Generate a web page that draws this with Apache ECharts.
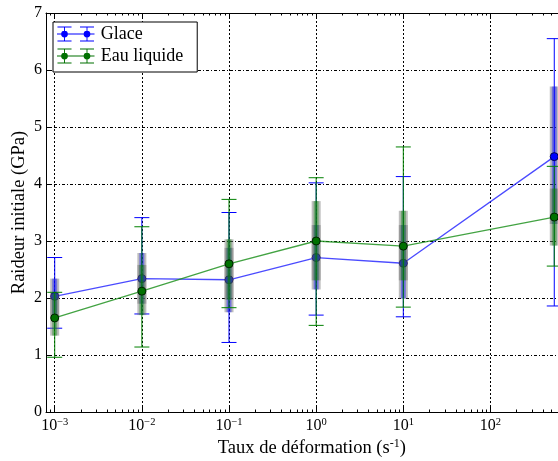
<!DOCTYPE html>
<html>
<head>
<meta charset="utf-8">
<script src="https://cdn.jsdelivr.net/npm/echarts@6/dist/echarts.min.js"></script>
<style>html,body{margin:0;padding:0;background:#fff}#c{width:558px;height:461px}</style>
</head>
<body>
<div id="c"></div>
<script>
// ---- data ----
const strainRates = [0.001, 0.01, 0.1, 1, 10, 540];
const glaceMean = [2.03, 2.34, 2.32, 2.71, 2.61, 4.48];
const glaceMin  = [1.47, 1.72, 1.22, 1.70, 1.67, 1.86];
const glaceMax  = [2.71, 3.41, 3.50, 4.02, 4.13, 6.55];
const glaceBoxLow  = [1.66, 1.90, 1.75, 2.15, 1.99, 3.30];
const glaceBoxHigh = [2.34, 2.79, 2.88, 3.28, 3.28, 5.71];
const eauMean = [1.65, 2.12, 2.60, 3.00, 2.91, 3.42];
const eauMin  = [0.96, 1.14, 1.83, 1.52, 1.84, 2.56];
const eauMax  = [2.10, 3.25, 3.73, 4.11, 4.65, 4.31];
const eauBoxLow  = [1.34, 1.70, 1.97, 2.31, 2.31, 2.92];
const eauBoxHigh = [2.08, 2.58, 3.03, 3.70, 3.53, 3.92];
const majorExponents = [-3, -2, -1, 0, 1, 2, 3];
const yTicks = [0, 1, 2, 3, 4, 5, 6, 7];

const FONT = '"Liberation Serif", "DejaVu Serif", serif';
const lx = strainRates.map(v => Math.log10(v));
const minorTicks = [];
for (let n = -4; n <= 3; n++) for (let k = 2; k <= 9; k++) {
  const v = n + Math.log10(k);
  if (v > -3.1 && v < 3) minorTicks.push(v);
}
const XMIN = -3.1, XMAX = 3;

function pts(m) { return lx.map((x, i) => [x, m[i]]); }
function rng(lo, hi) { return lx.map((x, i) => [x, lo[i], hi[i]]); }

function errRender(color) {
  return function (params, api) {
    const x = api.value(0), lo = api.value(1), hi = api.value(2);
    const a = api.coord([x, hi]), b = api.coord([x, lo]);
    const hw = 7.5;
    const st = { stroke: color, lineWidth: 1 };
    return { type: 'group', children: [
      { type: 'line', shape: { x1: a[0], y1: a[1], x2: b[0], y2: b[1] }, style: st },
      { type: 'line', shape: { x1: a[0] - hw, y1: a[1], x2: a[0] + hw, y2: a[1] }, style: st },
      { type: 'line', shape: { x1: b[0] - hw, y1: b[1], x2: b[0] + hw, y2: b[1] }, style: st }
    ]};
  };
}
function boxRender(fill) {
  return function (params, api) {
    const x = api.value(0), lo = api.value(1), hi = api.value(2);
    const a = api.coord([x, hi]), b = api.coord([x, lo]);
    const w = 9, wi = 5;
    return { type: 'group', children: [
      { type: 'rect', shape: { x: a[0] - w / 2, y: a[1], width: w, height: b[1] - a[1] }, style: { fill: 'rgba(110,110,110,0.45)' } },
      { type: 'rect', shape: { x: a[0] - wi / 2, y: a[1], width: wi, height: b[1] - a[1] }, style: { fill: fill } }
    ]};
  };
}

const iconPath = 'path://M0,7.4H40V8.6H0Z' +
  'M0.5,0H15.5V1.1H0.5Z M0.5,14.9H15.5V16H0.5Z M24.5,0H39.5V1.1H24.5Z M24.5,14.9H39.5V16H24.5Z' +
  'M7.5,0H8.5V16H7.5Z M31.5,0H32.5V16H31.5Z' +
  'M4.4,8a3.6,3.6 0 1,1 7.2,0a3.6,3.6 0 1,1 -7.2,0Z M28.4,8a3.6,3.6 0 1,1 7.2,0a3.6,3.6 0 1,1 -7.2,0Z';

function xLabel(v) {
  const e = Math.round(v);
  return '{b|10}{s|' + (e < 0 ? '\u2212' + (-e) : e) + '}';
}

const chart = echarts.init(document.getElementById('c'), null, { renderer: 'canvas' });
const gridLine = { show: true, lineStyle: { color: '#000', width: 1, type: [2, 2] } };
chart.setOption({
  animation: false,
  backgroundColor: '#fff',
  textStyle: { fontFamily: FONT },
  grid: { left: 46, top: 13, width: 531.6, height: 399, containLabel: false, outerBoundsMode: 'none' },
  legend: {
    left: 53, top: 22,
    orient: 'vertical',
    data: ['Glace', 'Eau liquide'],
    icon: iconPath,
    itemWidth: 40, itemHeight: 15, itemGap: 0,
    padding: [1, 14, 5, 4],
    itemStyle: { borderWidth: 0 },
    backgroundColor: '#fff', borderColor: '#000', borderWidth: 1, borderRadius: 0,
    textStyle: { fontFamily: FONT, fontSize: 18, color: '#000', lineHeight: 22 },
    z: 20
  },
  xAxis: [
    { type: 'value', position: 'bottom', min: XMIN, max: XMAX,
      name: '{n|Taux de déformation (s}{s|-1}{n|)}', nameLocation: 'middle', nameGap: 26, nameMoveOverlap: false,
      nameTextStyle: { rich: {
        n: { fontFamily: FONT, fontSize: 18.5, color: '#000', lineHeight: 21 },
        s: { fontFamily: FONT, fontSize: 12, color: '#000', lineHeight: 13, verticalAlign: 'top' } } },
      axisLine: { show: true, onZero: false, lineStyle: { color: '#000', width: 1 } },
      axisTick: { show: true, inside: true, length: 5, customValues: majorExponents, lineStyle: { color: '#000' } },
      axisLabel: { customValues: majorExponents.slice(0, 6), margin: 5, formatter: xLabel, rich: {
        b: { fontFamily: FONT, fontSize: 16, color: '#000', lineHeight: 18 },
        s: { fontFamily: FONT, fontSize: 10.5, color: '#000', lineHeight: 11, verticalAlign: 'top' } } },
      splitLine: gridLine
    },
    { type: 'value', position: 'bottom', min: XMIN, max: XMAX,
      axisLine: { show: false, onZero: false },
      axisTick: { show: true, inside: true, length: 2.5, customValues: minorTicks, lineStyle: { color: '#000' } },
      axisLabel: { show: false }, splitLine: { show: false } },
    { type: 'value', position: 'top', min: XMIN, max: XMAX,
      axisLine: { show: true, onZero: false, lineStyle: { color: '#000', width: 1 } },
      axisTick: { show: true, inside: true, length: 5, customValues: majorExponents, lineStyle: { color: '#000' } },
      axisLabel: { show: false }, splitLine: { show: false } },
    { type: 'value', position: 'top', min: XMIN, max: XMAX,
      axisLine: { show: false, onZero: false },
      axisTick: { show: true, inside: true, length: 2.5, customValues: minorTicks, lineStyle: { color: '#000' } },
      axisLabel: { show: false }, splitLine: { show: false } }
  ],
  yAxis: [
    { type: 'value', min: 0, max: 7, interval: 1,
      name: 'Raideur initiale (GPa)', nameLocation: 'middle', nameGap: 17, nameMoveOverlap: false,
      nameTextStyle: { fontFamily: FONT, fontSize: 18.5, color: '#000' },
      axisLine: { show: true, onZero: false, lineStyle: { color: '#000', width: 1 } },
      axisTick: { show: true, inside: true, length: 5, lineStyle: { color: '#000' } },
      axisLabel: { margin: 4, fontFamily: FONT, fontSize: 16, color: '#000', formatter: v => String(v) },
      splitLine: { show: true, lineStyle: { color: '#000', width: 1, type: [3, 2, 1, 2] } }
    }
  ],
  series: [
    { type: 'custom', name: 'gbox', renderItem: boxRender('rgba(0,0,255,0.4)'), data: rng(glaceBoxLow, glaceBoxHigh), z: 2, silent: true },
    { type: 'custom', name: 'gerr', renderItem: errRender('#0000ff'), data: rng(glaceMin, glaceMax), z: 3, silent: true },
    { type: 'line', name: 'Glace', data: pts(glaceMean), z: 4,
      color: '#0000ff',
      lineStyle: { color: 'rgba(30,30,255,0.8)', width: 1.3 },
      symbol: 'circle', symbolSize: 8,
      itemStyle: { color: '#0000ff', borderColor: '#000050', borderWidth: 1 } },
    { type: 'custom', name: 'ebox', renderItem: boxRender('rgba(0,128,0,0.4)'), data: rng(eauBoxLow, eauBoxHigh), z: 5, silent: true },
    { type: 'custom', name: 'eerr', renderItem: errRender('#008000'), data: rng(eauMin, eauMax), z: 6, silent: true },
    { type: 'line', name: 'Eau liquide', data: pts(eauMean), z: 7,
      color: '#008000',
      lineStyle: { color: 'rgba(20,140,20,0.8)', width: 1.3 },
      symbol: 'circle', symbolSize: 8,
      itemStyle: { color: '#007000', borderColor: '#002000', borderWidth: 1 } }
  ]
});
</script>
</body>
</html>
